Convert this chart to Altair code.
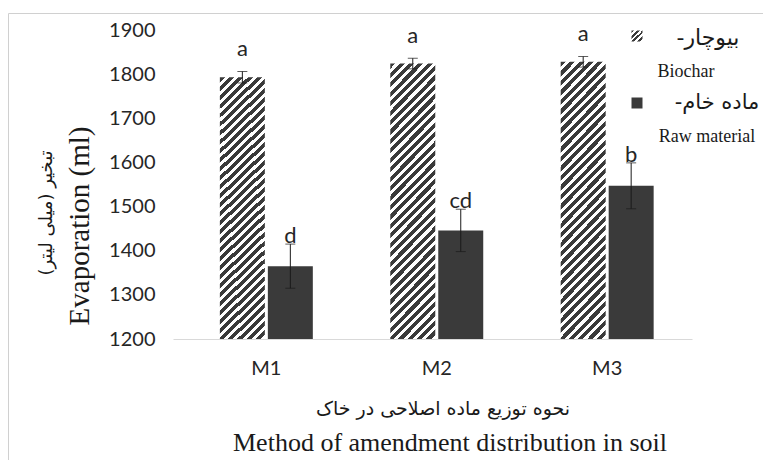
import altair as alt
import pandas as pd

methods = ["M1", "M2", "M3"]
types = ["Biochar", "Raw"]
biochar = [1793, 1824, 1828]
biochar_err = [13, 12, 12]
raw = [1365, 1446, 1547]
raw_err = [50, 48, 52]
letters_bio = ["a", "a", "a"]
letters_raw = ["d", "cd", "b"]
y_ticks = [1200, 1300, 1400, 1500, 1600, 1700, 1800, 1900]

y_title_fa = "\u200fتبخیر (میلی لیتر)\u200f"
y_title_en = "Evaporation (ml)"
x_title_fa = "\u200fنحوه توزیع ماده اصلاحی در خاک\u200f"
x_title_en = "Method of amendment  distribution in soil"
leg_bio_fa = "\u200fبیوچار-\u200f"
leg_bio_en = "Biochar"
leg_raw_fa = "\u200fماده خام-\u200f"
leg_raw_en = "Raw material"

rows = []
for i, m in enumerate(methods):
    rows.append({"method": m, "type": "Biochar", "value": biochar[i], "err": biochar_err[i], "letter": letters_bio[i]})
    rows.append({"method": m, "type": "Raw", "value": raw[i], "err": raw_err[i], "letter": letters_raw[i]})
df = pd.DataFrame(rows)

DARK = "#3a3a3a"


def hatch(w, h, period, dark=DARK, light="#ffffff", frac=0.5):
    n = max(1, round((w + h) / period))
    s = (w + h) / (w * w + h * h)
    stops = []
    for k in range(n):
        a = k / n
        b = (k + frac) / n
        c = (k + 1) / n
        stops += [
            alt.GradientStop(offset=a, color=dark),
            alt.GradientStop(offset=b, color=dark),
            alt.GradientStop(offset=b, color=light),
            alt.GradientStop(offset=c, color=light),
        ]
    return alt.LinearGradient(gradient="linear", stops=stops, x1=0, y1=0, x2=w * s, y2=h * s)


W, H = 519, 309

xenc = alt.X(
    "method:N",
    sort=methods,
    scale=alt.Scale(domain=methods, paddingInner=0.4545, paddingOuter=0.25, align=0.55),
    axis=alt.Axis(
        title=None, labelAngle=0, ticks=False, domain=True, domainColor="#d9d9d9",
        domainWidth=1, labelFont="Lato", labelFontSize=20, labelColor="#262626",
        labelPadding=19, grid=False,
    ),
)
xoff = alt.XOffset("type:N", sort=types, scale=alt.Scale(domain=types, paddingInner=0.0625, paddingOuter=0))
yscale = alt.Scale(domain=[1200, 1900], zero=False, nice=False)
yenc = alt.Y(
    "value:Q",
    scale=yscale,
    axis=alt.Axis(
        title=None, values=y_ticks, format="d", domain=False, ticks=False, grid=False,
        labelFont="Lato", labelFontSize=20, labelColor="#262626", labelPadding=18,
    ),
)

base = alt.Chart(df)

bars_bio = base.transform_filter(alt.datum.type == "Biochar").mark_bar(
    color=hatch(45, 272, 9.2, frac=0.55)
).encode(x=xenc, xOffset=xoff, y=yenc, y2=alt.datum(1200))

bars_raw = base.transform_filter(alt.datum.type == "Raw").mark_bar(
    color=DARK
).encode(x=xenc, xOffset=xoff, y=yenc, y2=alt.datum(1200))

err_base = base.transform_calculate(lo="datum.value - datum.err", hi="datum.value + datum.err")
err_rule = err_base.mark_rule(color="#1a1a1a", strokeWidth=1).encode(
    x=xenc, xOffset=xoff, y=alt.Y("lo:Q", scale=yscale), y2="hi:Q"
)
err_lo = err_base.mark_tick(color="#1a1a1a", thickness=1, size=10).encode(
    x=xenc, xOffset=xoff, y=alt.Y("lo:Q", scale=yscale)
)
err_hi = err_base.mark_tick(color="#1a1a1a", thickness=1, size=10).encode(
    x=xenc, xOffset=xoff, y=alt.Y("hi:Q", scale=yscale)
)

lab_bio = err_base.transform_filter(alt.datum.type == "Biochar").mark_text(
    font="Lato", fontSize=22, color="#262626", baseline="alphabetic", dy=-15
).encode(x=xenc, xOffset=xoff, y=alt.Y("hi:Q", scale=yscale), text="letter:N")
lab_raw = err_base.transform_filter(alt.datum.type == "Raw").mark_text(
    font="Lato", fontSize=22, color="#262626", baseline="alphabetic", dy=-1
).encode(x=xenc, xOffset=xoff, y=alt.Y("hi:Q", scale=yscale), text="letter:N")


def label(text, x, y, size, font="Liberation Serif, DejaVu Sans", angle=0, align="center"):
    return alt.Chart(pd.DataFrame({"t": [text]})).mark_text(
        font=font, fontSize=size, color="#1a1a1a", angle=angle, align=align, baseline="middle"
    ).encode(x=alt.value(x), y=alt.value(y), text="t:N")


frame = alt.Chart(pd.DataFrame({"t": [0]})).mark_rect(
    fill="transparent", stroke="#d0d0d0", strokeWidth=1
).encode(x=alt.value(-164.5), x2=alt.value(640), y=alt.value(-16.5), y2=alt.value(460))

leg_sym_bio = alt.Chart(pd.DataFrame({"t": [0]})).mark_square(
    size=121, color=hatch(11, 11, 5.5), opacity=1
).encode(x=alt.value(464), y=alt.value(6))
leg_sym_raw = alt.Chart(pd.DataFrame({"t": [0]})).mark_square(
    size=121, color=DARK, opacity=1
).encode(x=alt.value(464), y=alt.value(73))

chart = alt.layer(
    frame,
    bars_bio, bars_raw, err_rule, err_lo, err_hi, lab_bio, lab_raw,
    label(y_title_en, -93, 196, 29, angle=270),
    label(y_title_fa, -126, 183, 18, font="DejaVu Sans", angle=270),
    label(x_title_fa, 270, 379, 19, font="DejaVu Sans"),
    label(x_title_en, 277, 413, 26),
    leg_sym_bio, leg_sym_raw,
    label(leg_bio_fa, 535, 8, 22, font="DejaVu Sans"),
    label(leg_bio_en, 513, 42, 18),
    label(leg_raw_fa, 544, 73, 21, font="DejaVu Sans"),
    label(leg_raw_en, 534, 107, 18),
).properties(
    width=W, height=H,
    autosize=alt.AutoSizeParams(type="none"),
    padding={"left": 165, "top": 22, "right": 71, "bottom": 121},
    background="white",
).configure_view(stroke=None)

chart.save("out.html", embed_options={"renderer": "svg", "actions": False})
